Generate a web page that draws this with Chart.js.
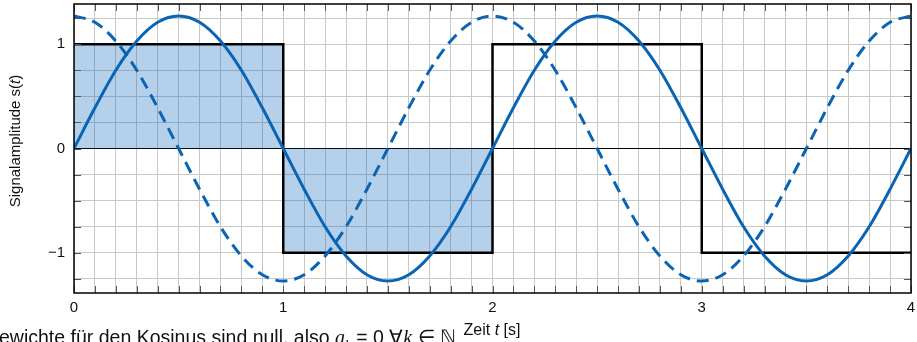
<!DOCTYPE html>
<html>
<head>
<meta charset="utf-8">
<script src="https://cdn.jsdelivr.net/npm/chart.js@4"></script>
<style>
  html, body { margin: 0; padding: 0; background: #fff; overflow: hidden; }
  #wrap { position: relative; width: 917px; height: 342px; }
  #note {
    position: absolute; left: -1px; top: 328px;
    font: 19.5px "Liberation Sans", Arial, sans-serif; color: #111;
    white-space: nowrap; line-height: 19.5px;
  }
  #note i { font-family: "Liberation Serif", serif; font-size: 20px; }
</style>
</head>
<body>
<div id="wrap">
  <canvas id="chart" width="917" height="342"></canvas>
  <div id="note">ewichte für den Kosinus sind null, also <i>a<sub style="font-size:13px">k</sub></i> = 0 ∀<i>k</i> ∈ ℕ</div>
</div>
<script>
// time samples (s)
const tSamples = [0, 0.1, 0.2, 0.3, 0.4, 0.5, 0.6, 0.7, 0.8, 0.9,
  1, 1.1, 1.2, 1.3, 1.4, 1.5, 1.6, 1.7, 1.8, 1.9,
  2, 2.1, 2.2, 2.3, 2.4, 2.5, 2.6, 2.7, 2.8, 2.9,
  3, 3.1, 3.2, 3.3, 3.4, 3.5, 3.6, 3.7, 3.8, 3.9, 4];

// solid curve
const sinValues = [0, 0.39, 0.75, 1.03, 1.21, 1.27, 1.21, 1.03, 0.75, 0.39,
  0, -0.39, -0.75, -1.03, -1.21, -1.27, -1.21, -1.03, -0.75, -0.39,
  0, 0.39, 0.75, 1.03, 1.21, 1.27, 1.21, 1.03, 0.75, 0.39,
  0, -0.39, -0.75, -1.03, -1.21, -1.27, -1.21, -1.03, -0.75, -0.39, 0];

// dashed curve
const cosValues = [1.27, 1.21, 1.03, 0.75, 0.39, 0, -0.39, -0.75, -1.03, -1.21,
  -1.27, -1.21, -1.03, -0.75, -0.39, 0, 0.39, 0.75, 1.03, 1.21,
  1.27, 1.21, 1.03, 0.75, 0.39, 0, -0.39, -0.75, -1.03, -1.21,
  -1.27, -1.21, -1.03, -0.75, -0.39, 0, 0.39, 0.75, 1.03, 1.21, 1.27];

// square wave
const squareT = [0, 1, 1, 2, 2, 3, 3, 4];
const squareY = [1, 1, -1, -1, 1, 1, -1, -1];

// shaded first period
const shadeT = [0, 1, 1, 2];
const shadeY = [1, 1, -1, -1];

// ticks
const xTickValues = [0, 0.1, 0.2, 0.3, 0.4, 0.5, 0.6, 0.7, 0.8, 0.9,
  1, 1.1, 1.2, 1.3, 1.4, 1.5, 1.6, 1.7, 1.8, 1.9,
  2, 2.1, 2.2, 2.3, 2.4, 2.5, 2.6, 2.7, 2.8, 2.9,
  3, 3.1, 3.2, 3.3, 3.4, 3.5, 3.6, 3.7, 3.8, 3.9, 4];
const xTickLabels = { 0: "0", 1: "1", 2: "2", 3: "3", 4: "4" };
const yTickValues = [-1.25, -1, -0.75, -0.5, -0.25, 0, 0.25, 0.5, 0.75, 1, 1.25];
const yTickLabels = { "-1": "\u22121", 0: "0", 1: "1" };

const blue = "#0a64b4";
const pts = (xs, ys) => xs.map((x, i) => ({ x: x, y: ys[i] }));

const frame = {
  id: "frame",
  afterDatasetsDraw(chart) {
    const { ctx, chartArea: a, scales } = chart;
    ctx.save();
    // inner tick marks
    ctx.strokeStyle = "#555";
    ctx.lineWidth = 1;
    ctx.beginPath();
    xTickValues.forEach((v) => {
      const px = Math.round(scales.x.getPixelForValue(v)) + 0.5;
      ctx.moveTo(px, a.bottom); ctx.lineTo(px, a.bottom - 7);
      ctx.moveTo(px, a.top); ctx.lineTo(px, a.top + 7);
    });
    yTickValues.forEach((v) => {
      const py = Math.round(scales.y.getPixelForValue(v)) + 0.5;
      ctx.moveTo(a.left, py); ctx.lineTo(a.left + 7, py);
      ctx.moveTo(a.right, py); ctx.lineTo(a.right - 7, py);
    });
    ctx.stroke();
    // box
    ctx.strokeStyle = "#000";
    ctx.lineWidth = 1.5;
    ctx.strokeRect(a.left, a.top, a.right - a.left, a.bottom - a.top);

    // axis titles
    ctx.fillStyle = "#111";
    ctx.textBaseline = "middle";
    const drawMixed = (parts, cx, cy, size) => {
      const normal = size + 'px "Liberation Sans", Arial, sans-serif';
      const italic = "italic " + normal;
      let w = 0;
      parts.forEach((p) => { ctx.font = p[1] ? italic : normal; w += ctx.measureText(p[0]).width; });
      let x = cx - w / 2;
      ctx.textAlign = "left";
      parts.forEach((p) => {
        ctx.font = p[1] ? italic : normal;
        ctx.fillText(p[0], x, cy);
        x += ctx.measureText(p[0]).width;
      });
    };
    drawMixed([["Zeit ", false], ["t", true], [" [s]", false]], 492, 331, 16);
    ctx.translate(16, 141);
    ctx.rotate(-Math.PI / 2);
    drawMixed([["Signalamplitude s(", false], ["t", true], [")", false]], 0, 0, 15);
    ctx.restore();
  }
};

new Chart(document.getElementById("chart"), {
  type: "line",
  data: {
    datasets: [
      {
        label: "sin",
        data: pts(tSamples, sinValues),
        borderColor: blue,
        borderWidth: 3,
        pointRadius: 0,
        cubicInterpolationMode: "monotone",
        fill: false,
        order: 0,
      },
      {
        label: "cos",
        data: pts(tSamples, cosValues),
        borderColor: blue,
        borderWidth: 3,
        borderDash: [12, 7],
        pointRadius: 0,
        cubicInterpolationMode: "monotone",
        fill: false,
        order: 1,
      },
      {
        label: "square",
        data: pts(squareT, squareY),
        borderColor: "#000",
        borderWidth: 2.5,
        pointRadius: 0,
        tension: 0,
        fill: false,
        order: 2,
      },
      {
        label: "shade",
        data: pts(shadeT, shadeY),
        borderWidth: 0,
        borderColor: "rgba(0,0,0,0)",
        backgroundColor: "rgba(5,98,185,0.3)",
        pointRadius: 0,
        tension: 0,
        fill: "origin",
        order: 3,
      },
    ],
  },
  options: {
    animation: false,
    responsive: false,
    layout: { padding: { left: 0, right: 6, top: 4, bottom: 0 } },
    plugins: {
      legend: { display: false },
      tooltip: { enabled: false },
    },
    scales: {
      x: {
        type: "linear",
        min: 0,
        max: 4,
        afterBuildTicks: (s) => { s.ticks = xTickValues.map((v) => ({ value: v })); },
        afterFit: (s) => { s.height = 49; s.paddingLeft = 0; s.paddingRight = 0; },
        grid: { color: "#c8c8c8", lineWidth: 1, drawTicks: false },
        border: { display: false },
        ticks: {
          autoSkip: false,
          maxRotation: 0,
          padding: 6,
          color: "#111",
          font: { family: '"Liberation Sans", Arial, sans-serif', size: 15 },
          callback: (v) => xTickLabels[v] || "",
        },
      },
      y: {
        min: -1.385,
        max: 1.385,
        afterBuildTicks: (s) => { s.ticks = yTickValues.map((v) => ({ value: v })); },
        afterFit: (s) => { s.width = 74; s.paddingTop = 0; s.paddingBottom = 0; },
        grid: {
          color: (c) => (c.tick && c.tick.value === 0 ? "#000" : "#c8c8c8"),
          lineWidth: 1,
          drawTicks: false,
        },
        border: { display: false },
        ticks: {
          autoSkip: false,
          padding: 9,
          color: "#111",
          font: { family: '"Liberation Sans", Arial, sans-serif', size: 15 },
          callback: (v) => yTickLabels[v] || "",
        },
      },
    },
  },
  plugins: [frame],
});
</script>
</body>
</html>
